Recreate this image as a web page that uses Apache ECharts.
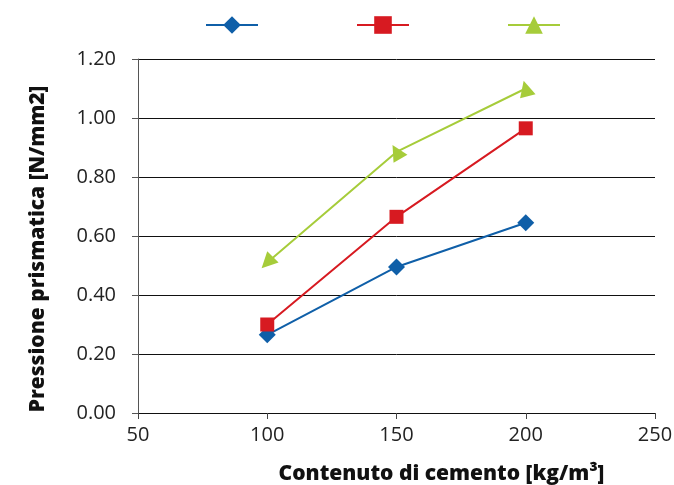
<!DOCTYPE html>
<html><head><meta charset="utf-8">
<script src="https://cdn.jsdelivr.net/npm/echarts@6/dist/echarts.min.js"></script>
<style>html,body{margin:0;padding:0;background:#fff}#c{width:674px;height:485px}</style>
</head><body><div id="c"></div>
<script>
const xValues = [100, 150, 200];
const seriesA = [0.265, 0.495, 0.645];
const seriesB = [0.300, 0.665, 0.965];
const seriesC = [0.510, 0.885, 1.100];
const seriesNames = ['A', 'B', 'C'];
const yAxisTitle = 'Pressione prismatica [N/mm2]';
const xAxisTitle = 'Contenuto di cemento [kg/m³]';

const triRot = [135, 30, 15];
const pairs = (vals, rot) => xValues.map((x, i) => rot ? {value: [x, vals[i]], symbolRotate: rot[i]} : [x, vals[i]]);
const font = 'Open Sans';

const chart = echarts.init(document.getElementById('c'), null, {renderer: 'canvas'});
chart.setOption({
  animation: false,
  textStyle: {fontFamily: font},
  legend: {
    left: 200, top: 9,
    itemWidth: 52, itemHeight: 22, itemGap: 97,
    formatter: () => '',
    textStyle: {fontSize: 1},
    data: seriesNames
  },
  grid: {left: 138, right: 19, top: 59, bottom: 72, containLabel: false, outerBoundsMode: 'none'},
  xAxis: {
    type: 'value', min: 50, max: 250, interval: 50,
    name: xAxisTitle, nameLocation: 'middle', nameGap: 51,
    nameTextStyle: {fontFamily: font, fontWeight: 800, fontSize: 21, color: '#111', padding: [0, 0, 0, 90]},
    axisLine: {lineStyle: {color: '#111', width: 1}},
    axisTick: {show: true, length: 6, lineStyle: {color: '#444'}},
    axisLabel: {fontSize: 20, color: '#222', margin: 12},
    splitLine: {show: false}
  },
  yAxis: {
    type: 'value', min: 0, max: 1.2, interval: 0.2,
    name: yAxisTitle, nameLocation: 'middle', nameGap: 89,
    nameTextStyle: {fontFamily: font, fontWeight: 800, fontSize: 21, color: '#111', padding: [0, 26, 0, 0]},
    axisLine: {show: true, lineStyle: {color: '#555', width: 1}},
    axisTick: {show: true, length: 6, lineStyle: {color: '#555'}},
    axisLabel: {fontSize: 20, color: '#222', margin: 22, formatter: v => v.toFixed(2)},
    splitLine: {show: true, lineStyle: {color: '#111', width: 1}}
  },
  series: [
    {name: seriesNames[0], type: 'line', data: pairs(seriesA), symbol: 'diamond', symbolSize: 17,
     lineStyle: {color: '#0F5FA8', width: 2}, itemStyle: {color: '#0F5FA8'}},
    {name: seriesNames[1], type: 'line', data: pairs(seriesB), symbol: 'rect', symbolSize: 14,
     lineStyle: {color: '#D71A21', width: 2}, itemStyle: {color: '#D71A21'}},
    {name: seriesNames[2], type: 'line', data: pairs(seriesC, triRot), symbol: 'triangle', symbolSize: 16,
     lineStyle: {color: '#A6CC3A', width: 2}, itemStyle: {color: '#A6CC3A'}}
  ]
});
</script></body></html>
